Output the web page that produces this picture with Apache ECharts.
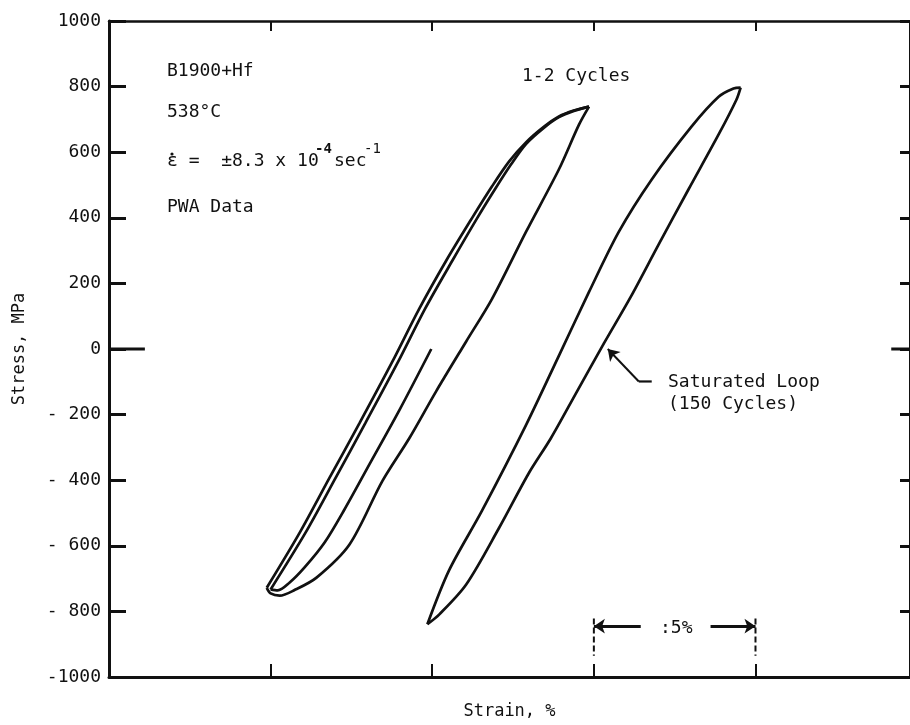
<!DOCTYPE html>
<html>
<head>
<meta charset="utf-8">
<script src="https://cdn.jsdelivr.net/npm/echarts/dist/echarts.min.js"></script>
<style>html,body{margin:0;padding:0;background:#fff}#c{width:910px;height:725px}</style>
</head>
<body>
<div id="c"></div>
<script>
// ---- data (strain %, stress MPa) ----
var yTickValues = [-1000, -800, -600, -400, -200, 0, 200, 400, 600, 800, 1000];
var yTickLabels = ['-1000', '- 800', '- 600', '- 400', '- 200', '0', '200', '400', '600', '800', '1000'];

var leftLoadA = [[0.488,-728],[0.590,-560],[0.682,-393],[0.775,-226],[0.877,-38],[0.960,123],[1.043,269],[1.123,399],[1.185,496],[1.238,572],[1.290,630],[1.346,678],[1.392,709],[1.438,727],[1.485,739]];
var leftLoadB = [[0.500,-733],[0.608,-560],[0.701,-393],[0.793,-226],[0.895,-38],[0.978,123],[1.062,269],[1.139,399],[1.194,487],[1.244,563],[1.290,625],[1.346,675],[1.392,707],[1.438,726],[1.485,739]];
var leftUnload = [[1.485,739],[1.454,684],[1.392,548],[1.290,357],[1.185,153],[1.105,23],[1.012,-129],[0.929,-272],[0.846,-402],[0.744,-596],[0.642,-697],[0.574,-735],[0.528,-752],[0.500,-745],[0.488,-728]];
var initialLoad = [[0.997,0],[0.898,-187],[0.806,-351],[0.728,-490],[0.667,-590],[0.605,-666],[0.559,-712],[0.522,-736],[0.500,-733]];
var rightLoad = [[0.985,-839],[1.052,-675],[1.154,-493],[1.290,-232],[1.392,-20],[1.485,174],[1.577,357],[1.679,517],[1.802,678],[1.886,769],[1.932,794],[1.954,797]];
var rightUnload = [[1.954,797],[1.941,760],[1.886,654],[1.793,487],[1.701,320],[1.614,159],[1.531,17],[1.448,-129],[1.367,-272],[1.299,-378],[1.207,-545],[1.105,-718],[1.022,-809],[0.985,-839]];

var zeroTickLeft = [[0, 0], [0.111, 0]];
var zeroTickRight = [[2.42, 0], [2.478, 0]];
var pointerFoot = [[1.679,-99],[1.639,-99]];
var pointerDiag = [[1.639,-99],[1.543,0]];
var scaleLeftArrow = [[1.645,-845],[1.5,-845]];
var scaleRightArrow = [[1.861,-845],[2.0,-845]];
var scaleDashLeft = [[1.5,-822],[1.5,-935]];
var scaleDashRight = [[2.0,-822],[2.0,-935]];

var FONT = 'DejaVu Sans Mono';
var INK = '#111';

function curve(data, w) {
  return {
    type: 'line', data: data, showSymbol: false, smooth: 0.3,
    lineStyle: { color: INK, width: w || 2.7 }, silent: true, z: 3
  };
}
function seg(data, w, dash) {
  return {
    type: 'line', data: data, showSymbol: false,
    lineStyle: { color: INK, width: w, type: dash || 'solid' }, silent: true, z: 3
  };
}

var chart = echarts.init(document.getElementById('c'), null, { renderer: 'canvas' });

var option = {
  animation: false,
  backgroundColor: '#fff',
  grid: { left: 109, right: -2, top: 21, bottom: 45 },
  xAxis: [
    {
      type: 'value', min: 0, max: 2.478, interval: 0.5, position: 'bottom',
      name: 'Strain, %', nameLocation: 'middle', nameGap: 26,
      nameTextStyle: { fontFamily: FONT, fontSize: 17, color: INK },
      axisLine: { show: true, onZero: false, lineStyle: { color: INK, width: 3 } },
      axisTick: { show: true, inside: true, length: 13, lineStyle: { color: INK, width: 2 } },
      axisLabel: { show: false }, splitLine: { show: false }
    },
    {
      type: 'value', min: 0, max: 2.478, interval: 0.5, position: 'top',
      axisLine: { show: true, onZero: false, lineStyle: { color: INK, width: 2.5 } },
      axisTick: { show: true, inside: true, length: 10, lineStyle: { color: INK, width: 2 } },
      axisLabel: { show: false }, splitLine: { show: false }
    }
  ],
  yAxis: [
    {
      type: 'value', min: -1000, max: 1000, interval: 200, position: 'left',
      name: 'Stress, MPa', nameLocation: 'middle', nameGap: 81, nameRotate: 90,
      nameTextStyle: { fontFamily: FONT, fontSize: 17, color: INK },
      axisLine: { show: true, onZero: false, lineStyle: { color: INK, width: 3 } },
      axisTick: { show: true, inside: true, length: 17, lineStyle: { color: INK, width: 3 } },
      axisLabel: {
        show: true, margin: 8, fontFamily: FONT, fontSize: 18, color: INK,
        formatter: function (v) { var i = yTickValues.indexOf(v); return i >= 0 ? yTickLabels[i] : ''; }
      },
      splitLine: { show: false }
    },
    {
      type: 'value', min: -1000, max: 1000, interval: 200, position: 'right',
      axisLine: { show: true, onZero: false, lineStyle: { color: INK, width: 2 } },
      axisTick: { show: true, inside: true, length: 10, lineStyle: { color: INK, width: 3 } },
      axisLabel: { show: false }, splitLine: { show: false }
    }
  ],
  series: [
    curve(leftLoadA), curve(leftLoadB), curve(leftUnload), curve(initialLoad),
    curve(rightLoad), curve(rightUnload),
    seg(zeroTickLeft, 3), seg(zeroTickRight, 3),
    seg(scaleDashLeft, 2, [6, 3]), seg(scaleDashRight, 2, [6, 3]),
    seg(pointerFoot, 2.2),
    {
      type: 'lines', coordinateSystem: 'cartesian2d', silent: true,
      symbol: ['none', 'arrow'], symbolSize: 11,
      lineStyle: { color: INK, width: 2, opacity: 1 },
      data: [{ coords: pointerDiag }], z: 4
    },
    {
      type: 'lines', coordinateSystem: 'cartesian2d', silent: true,
      symbol: ['none', 'arrow'], symbolSize: 11,
      lineStyle: { color: INK, width: 3, opacity: 1 },
      data: [{ coords: scaleLeftArrow }, { coords: scaleRightArrow }], z: 4
    }
  ],
  graphic: [
    { type: 'text', left: 167, top: 62, style: { text: 'B1900+Hf', font: '18px ' + FONT, fill: INK } },
    { type: 'text', left: 167, top: 103, style: { text: '538°C', font: '18px ' + FONT, fill: INK } },
    { type: 'text', left: 167, top: 152, style: { text: 'ε =  ±8.3 x 10', font: '18px ' + FONT, fill: INK } },
    { type: 'circle', shape: { cx: 172, cy: 154, r: 1.6 }, style: { fill: INK } },
    { type: 'text', left: 315, top: 142, style: { text: '-4', font: 'bold 14px ' + FONT, fill: INK } },
    { type: 'text', left: 334, top: 152, style: { text: 'sec', font: '18px ' + FONT, fill: INK } },
    { type: 'text', left: 364, top: 142, style: { text: '-1', font: '14px ' + FONT, fill: INK } },
    { type: 'text', left: 167, top: 198, style: { text: 'PWA Data', font: '18px ' + FONT, fill: INK } },
    { type: 'text', left: 522, top: 67, style: { text: '1-2 Cycles', font: '18px ' + FONT, fill: INK } },
    { type: 'text', left: 668, top: 373, style: { text: 'Saturated Loop', font: '18px ' + FONT, fill: INK } },
    { type: 'text', left: 668, top: 395, style: { text: '(150 Cycles)', font: '18px ' + FONT, fill: INK } },
    { type: 'text', left: 660, top: 619, style: { text: ':5%', font: '18px ' + FONT, fill: INK } }
  ]
};
chart.setOption(option);
</script>
</body>
</html>
